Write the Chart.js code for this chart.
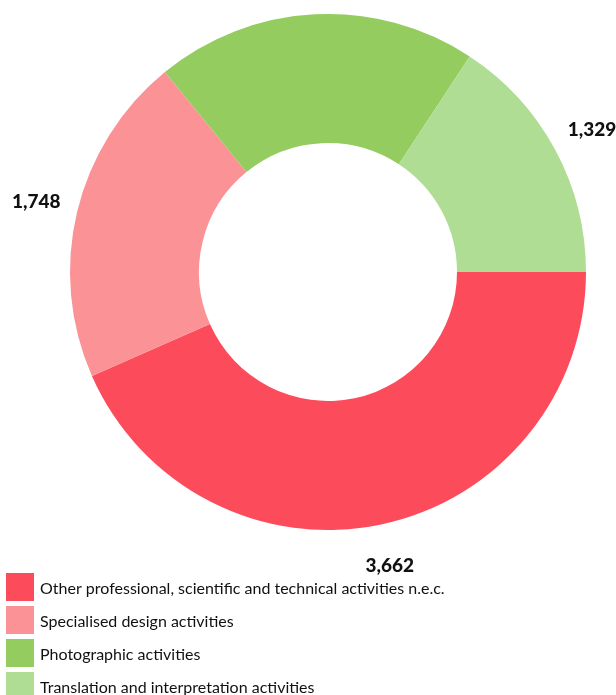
<!DOCTYPE html>
<html>
<head>
<meta charset="utf-8">
<script src="https://cdn.jsdelivr.net/npm/chart.js@4"></script>
<style>
  html, body { margin: 0; padding: 0; background: #fff; }
  #wrap { width: 616px; height: 695px; position: relative; }
</style>
</head>
<body>
<div id="wrap"><canvas id="c" width="616" height="695"></canvas></div>
<script>
const categories = [
  "Other professional, scientific and technical activities n.e.c.",
  "Specialised design activities",
  "Photographic activities",
  "Translation and interpretation activities"
];
const values = [3662, 1748, 1700, 1329];
const valueLabels = ["3,662", "1,748", "1,700", "1,329"];
const colors = ["#fc4c5c", "#fb9296", "#94cc60", "#b0dd94"];

const FONT = "Lato, 'Open Sans', sans-serif";

const valueLabelPlugin = {
  id: 'valueLabels',
  afterDatasetsDraw(chart) {
    const ctx = chart.ctx;
    ctx.save();
    ctx.font = "900 19px " + FONT;
    ctx.fillStyle = "#111";
    ctx.textAlign = "center";
    ctx.textBaseline = "middle";
    const meta = chart.getDatasetMeta(0);
    meta.data.forEach((arc, i) => {
      const p = arc.getProps(['x', 'y', 'startAngle', 'endAngle', 'outerRadius'], true);
      const mid = (p.startAngle + p.endAngle) / 2;
      const r = p.outerRadius + 42;
      const x = p.x + Math.cos(mid) * r;
      const y = p.y + Math.sin(mid) * r;
      if (y < 8 || y > chart.height - 8) return;
      ctx.fillText(valueLabels[i], x, y);
    });
    ctx.restore();
  }
};

const legendPlugin = {
  id: 'customLegend',
  afterDraw(chart) {
    const ctx = chart.ctx;
    ctx.save();
    ctx.font = "16px " + FONT;
    ctx.textAlign = "left";
    ctx.textBaseline = "middle";
    categories.forEach((name, i) => {
      const top = 573 + i * 33;
      ctx.fillStyle = colors[i];
      ctx.fillRect(6, top, 28, 28);
      ctx.fillStyle = "#111";
      ctx.fillText(name, 40, top + 16);
    });
    ctx.restore();
  }
};

new Chart(document.getElementById('c'), {
  type: 'doughnut',
  data: {
    labels: categories,
    datasets: [{
      data: values,
      backgroundColor: colors,
      borderWidth: 0,
      hoverBorderWidth: 0,
      hoverOffset: 0
    }]
  },
  options: {
    responsive: false,
    animation: false,
    events: [],
    rotation: 90,
    cutout: '50%',
    layout: { padding: { top: 14, bottom: 165, left: 40, right: 0 } },
    plugins: {
      legend: { display: false },
      tooltip: { enabled: false }
    }
  },
  plugins: [valueLabelPlugin, legendPlugin]
});
</script>
</body>
</html>
